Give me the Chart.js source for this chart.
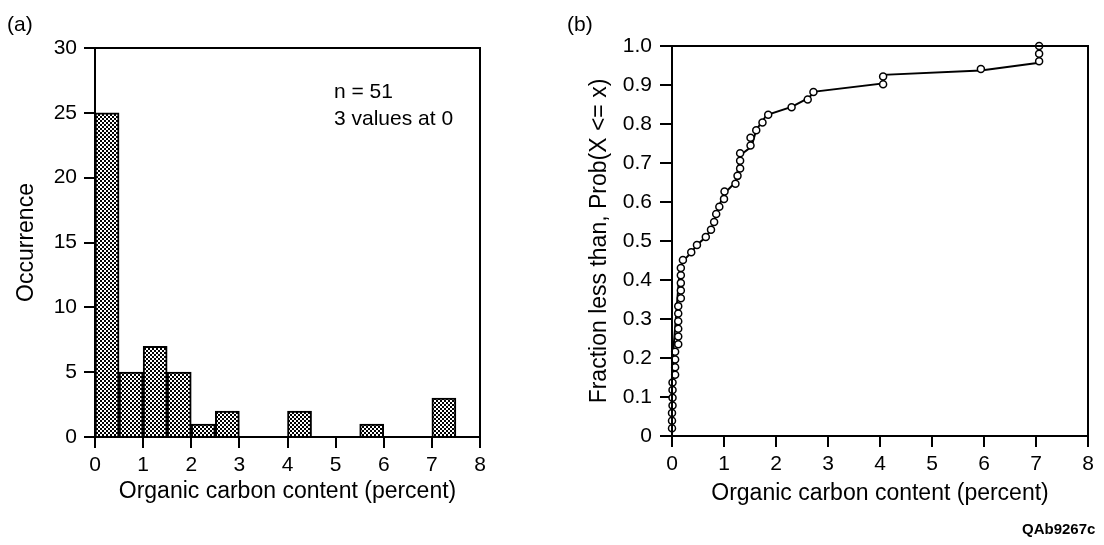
<!DOCTYPE html>
<html lang="en">
  <head>
    <meta charset="UTF-8" />
    <title>Organic carbon content</title>
    <script src="https://cdn.jsdelivr.net/npm/chart.js"></script>
    <style>
      body { margin: 0; background: #fff; font-family: "Liberation Sans", Arial, sans-serif; color: #000; }
      #page { position: relative; width: 1104px; height: 545px; overflow: hidden; }
      canvas { position: absolute; top: 0; }
      .note { position: absolute; font-size: 21px; line-height: 21px; white-space: nowrap; }
    </style>
  </head>
  <body>
    <div id="page">
      <canvas id="histChart" width="550" height="545" style="left: 0"></canvas>
      <canvas id="cdfChart" width="554" height="545" style="left: 550px"></canvas>
      <div class="note" style="left: 7px; top: 13px">(a)</div>
      <div class="note" style="left: 567px; top: 13px">(b)</div>
      <div class="note" style="left: 334px; top: 77px; line-height: 27px">n = 51<br />3 values at 0</div>
      <div class="note" style="left: 1022px; top: 521px; font-size: 15px; line-height: 15px; font-weight: bold">QAb9267c</div>
    </div>

    <script>
      // Histogram (a): bins of 0.5 percent
      const binStarts = [0, 0.5, 1, 1.5, 2, 2.5, 3, 3.5, 4, 4.5, 5, 5.5, 6, 6.5, 7, 7.5];
      const binCounts = [25, 5, 7, 5, 1, 2, 0, 0, 2, 0, 0, 1, 0, 0, 3, 0];
      const binWidth = 0.5;

      // Cumulative plot (b): sorted values and their fraction
      const cdfX = [0, 0, 0, 0.01, 0.01, 0.01, 0.01, 0.06, 0.06, 0.06, 0.06, 0.12, 0.12, 0.12,
        0.12, 0.12, 0.12, 0.17, 0.17, 0.17, 0.17, 0.17, 0.21, 0.37, 0.48, 0.65, 0.75, 0.81,
        0.85, 0.91, 1.0, 1.01, 1.22, 1.26, 1.31, 1.31, 1.31, 1.51, 1.51, 1.62, 1.74, 1.85,
        2.3, 2.61, 2.72, 4.06, 4.06, 5.94, 7.06, 7.06, 7.06];
      const cdfY = [0.02, 0.039, 0.059, 0.078, 0.098, 0.118, 0.137, 0.157, 0.176, 0.196,
        0.216, 0.235, 0.255, 0.275, 0.294, 0.314, 0.333, 0.353, 0.373, 0.392, 0.412, 0.431,
        0.451, 0.471, 0.49, 0.51, 0.529, 0.549, 0.569, 0.588, 0.608, 0.627, 0.647, 0.667,
        0.686, 0.706, 0.725, 0.745, 0.765, 0.784, 0.804, 0.824, 0.843, 0.863, 0.882, 0.902,
        0.922, 0.941, 0.961, 0.98, 1.0];

      // Curve drawn through the points
      const curveX = [0, 0.02, 0.15, 0.22, 0.37, 0.48, 0.65, 0.75, 0.81, 0.85, 0.91, 0.99,
        1.23, 1.31, 1.53, 1.62, 1.82, 2.3, 2.62, 2.75, 4.06, 4.06, 5.94, 7.06];
      const curveY = [0, 0.21, 0.43, 0.45, 0.47, 0.49, 0.51, 0.53, 0.55, 0.57, 0.59, 0.62,
        0.652, 0.72, 0.742, 0.785, 0.823, 0.844, 0.866, 0.883, 0.904, 0.926, 0.937, 0.957];

      const probTickLabels = ["0", "0.1", "0.2", "0.3", "0.4", "0.5", "0.6", "0.7", "0.8", "0.9", "1.0"];
      const xTitle = "Organic carbon content (percent)";

      const FONT = "'Liberation Sans', Arial, sans-serif";
      const tickFont = { family: FONT, size: 21 };
      const titleFont = { family: FONT, size: 23 };

      // small checker pattern for the bars
      function makeHatch() {
        const c = document.createElement("canvas");
        c.width = 4;
        c.height = 4;
        const g = c.getContext("2d");
        g.fillStyle = "#fff";
        g.fillRect(0, 0, 4, 4);
        g.fillStyle = "#000";
        g.fillRect(0, 0, 2, 2);
        g.fillRect(2, 2, 2, 2);
        return g.createPattern(c, "repeat");
      }

      // box around the plot area
      const frame = {
        id: "frame",
        afterDraw(chart) {
          const { ctx, chartArea: a } = chart;
          ctx.save();
          ctx.strokeStyle = "#000";
          ctx.lineWidth = 2;
          ctx.strokeRect(a.left, a.top, a.right - a.left, a.bottom - a.top);
          ctx.restore();
        },
      };

      function axisX(height, titlePad) {
        return {
          type: "linear",
          min: 0,
          max: 8,
          offset: false,
          afterFit: (s) => { s.height = height; },
          ticks: { stepSize: 1, font: tickFont, color: "#000", padding: 5, maxRotation: 0 },
          grid: { drawOnChartArea: false, offset: false, tickLength: 11, color: "#000", lineWidth: 2 },
          border: { color: "#000", width: 2 },
          title: { display: true, text: xTitle, font: titleFont, color: "#000", padding: { top: 0, bottom: titlePad } },
        };
      }

      Chart.defaults.animation = false;

      new Chart(document.getElementById("histChart"), {
        type: "bar",
        data: {
          datasets: [
            {
              data: binStarts.map((x, i) => ({ x: x + binWidth / 2, y: binCounts[i] })),
              backgroundColor: makeHatch(),
              borderColor: "#000",
              borderWidth: 2,
              borderSkipped: "start",
              barPercentage: 1,
              categoryPercentage: 1,
            },
          ],
        },
        options: {
          responsive: false,
          layout: { padding: { top: 48, right: 70, left: 0, bottom: 0 } },
          plugins: { legend: { display: false }, tooltip: { enabled: false } },
          scales: {
            x: axisX(108, 40),
            y: {
              min: 0,
              max: 30,
              afterFit: (s) => { s.width = 95; },
              ticks: { stepSize: 5, font: tickFont, color: "#000", padding: 7 },
              grid: { drawOnChartArea: false, tickLength: 11, color: "#000", lineWidth: 2 },
              border: { color: "#000", width: 2 },
              title: { display: true, text: "Occurrence", font: titleFont, color: "#000", padding: { top: 13, bottom: 0 } },
            },
          },
        },
        plugins: [frame],
      });

      new Chart(document.getElementById("cdfChart"), {
        type: "scatter",
        data: {
          datasets: [
            {
              data: cdfX.map((x, i) => ({ x, y: cdfY[i] })),
              pointRadius: 3.5,
              pointBorderWidth: 1.5,
              pointBackgroundColor: "#fff",
              pointBorderColor: "#000",
              clip: false,
              order: 0,
            },
            {
              type: "line",
              data: curveX.map((x, i) => ({ x, y: curveY[i] })),
              borderColor: "#000",
              borderWidth: 2,
              pointRadius: 0,
              tension: 0,
              clip: false,
              order: 1,
            },
          ],
        },
        options: {
          responsive: false,
          layout: { padding: { top: 46, right: 16, left: 0, bottom: 0 } },
          plugins: { legend: { display: false }, tooltip: { enabled: false } },
          scales: {
            x: axisX(109, 38),
            y: {
              min: 0,
              max: 1,
              afterFit: (s) => { s.width = 122; },
              ticks: {
                stepSize: 0.1,
                font: tickFont,
                color: "#000",
                padding: 8,
                callback: (v, i) => probTickLabels[i],
              },
              grid: { drawOnChartArea: false, tickLength: 12, color: "#000", lineWidth: 2 },
              border: { color: "#000", width: 2 },
              title: {
                display: true,
                text: "Fraction less than, Prob(X <= x)",
                font: titleFont,
                color: "#000",
                padding: { top: 36, bottom: 0 },
              },
            },
          },
        },
        plugins: [frame],
      });
    </script>
  </body>
</html>
